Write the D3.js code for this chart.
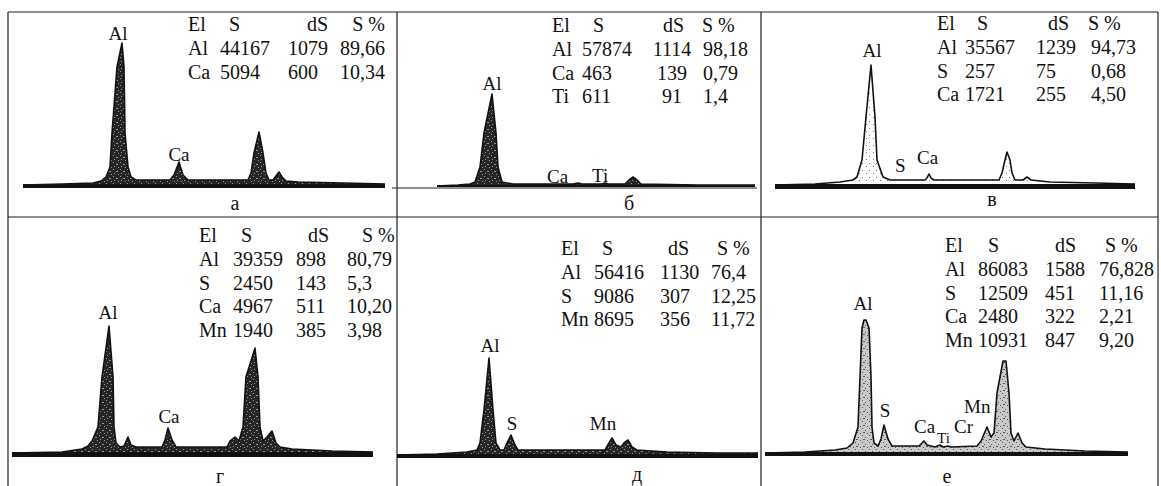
<!DOCTYPE html>
<html><head><meta charset="utf-8">
<script src="https://cdn.jsdelivr.net/npm/d3@7"></script>
<style>
html,body{margin:0;padding:0;background:#fff;}
svg{display:block;}
</style></head><body>
<svg id="chart" width="1161" height="486" font-family="'Liberation Serif','DejaVu Serif','Times New Roman',serif"></svg>
<script>
// ---------------- DATA ----------------
const panelLetters = ["а", "б", "в", "г", "д", "е"];
const tableHeader = ["El", "S", "dS", "S %"];

const tableA = [["Al","44167","1079","89,66"],["Ca","5094","600","10,34"]];
const tableB = [["Al","57874","1114","98,18"],["Ca","463","139","0,79"],["Ti","611","91","1,4"]];
const tableV = [["Al","35567","1239","94,73"],["S","257","75","0,68"],["Ca","1721","255","4,50"]];
const tableG = [["Al","39359","898","80,79"],["S","2450","143","5,3"],["Ca","4967","511","10,20"],["Mn","1940","385","3,98"]];
const tableD = [["Al","56416","1130","76,4"],["S","9086","307","12,25"],["Mn","8695","356","11,72"]];
const tableE = [["Al","86083","1588","76,828"],["S","12509","451","11,16"],["Ca","2480","322","2,21"],["Mn","10931","847","9,20"]];

// spectra: [channel, counts (arb.)]
const spectrumA = [[0,0],[40,1],[70,2],[78,4],[83,8],[87,18],[89,52],[94,118],[99,142],[101,118],[102,52],[105,18],[108,8],[113,5],[147,5],[151,10],[156,23],[160,10],[165,5],[225,5],[228,12],[231,32],[236,53],[240,32],[243,12],[246,5],[250,5],[253,9],[256,13],[259,8],[263,4],[275,3],[320,2],[362,1]];
const spectrumB = [[39,0],[60,1],[72,2],[77,4],[82,19],[86,53],[94,92],[98,53],[100,19],[104,4],[115,2],[175,2],[180,3],[184,2],[204,2],[207,3],[210,2],[227,2],[231,6],[235,9],[239,6],[243,2],[300,1],[357,1]];
const spectrumV = [[0,0],[40,1],[65,3],[78,5],[82,8],[87,25],[91,68],[96,120],[100,68],[102,25],[108,8],[115,5],[150,5],[152,7],[154,11],[156,7],[159,5],[224,5],[227,12],[230,25],[232,33],[235,25],[237,12],[240,5],[248,5],[252,8],[256,5],[275,3],[320,2],[360,1]];
const spectrumG = [[0,0],[50,1],[70,4],[76,7],[80,12],[86,26],[90,76],[97,127],[101,76],[102,26],[104,10],[108,6],[112,7],[116,16],[119,8],[124,6],[150,6],[153,13],[156,25],[160,13],[164,6],[215,6],[218,12],[223,16],[227,12],[231,26],[234,76],[243,105],[246,76],[248,26],[251,12],[255,16],[260,22],[264,10],[268,6],[280,4],[320,2],[361,1]];
const spectrumD = [[0,0],[40,1],[70,3],[80,5],[83,12],[87,45],[92,97],[96,45],[99,12],[103,5],[107,5],[110,12],[114,20],[118,10],[121,5],[208,5],[212,12],[215,17],[219,10],[224,8],[227,12],[231,15],[235,8],[240,5],[270,3],[320,2],[361,2]];
const spectrumE = [[0,0],[40,1],[70,3],[82,5],[88,10],[93,26],[95,76],[97,125],[99,133],[101,133],[104,125],[106,76],[107,26],[109,10],[113,7],[116,14],[119,28],[123,14],[127,7],[154,7],[157,10],[159,12],[162,8],[170,6],[175,8],[178,6],[183,7],[186,6],[212,7],[216,12],[222,26],[226,16],[229,20],[232,60],[238,92],[241,92],[244,60],[246,20],[249,12],[253,20],[257,10],[261,6],[280,4],[320,2],[363,1]];

// peak labels: [text, channel, counts, anchor]
const labelsA = [["Al",95,145,"middle"],["Ca",156,24,"middle"]];
const labelsB = [["Al",94,96,"middle"],["Ca",149,3,"start"],["Ti",194,4,"start"]];
const labelsV = [["Al",97,128,"middle"],["S",120,13,"start"],["Ca",142,21,"start"]];
const labelsG = [["Al",96,134,"middle"],["Ca",157,30,"middle"]];
const labelsD = [["Al",93,103,"middle"],["S",115,25,"middle"],["Mn",206,25,"middle"]];
const labelsE = [["Al",98,143,"middle"],["S",120,36,"middle"],["Ca",149,20,"start"],["Ti",172,10,"start"],["Cr",189,20,"start"],["Mn",199,40,"start"]];

// ---------------- LAYOUT ----------------
const panels = [
  {letter:panelLetters[0], table:tableA, spec:spectrumA, labels:labelsA, x0:23, x1:385, xmax:362, base:185,
   fill:"dark", thick:4, tY:31, hX:[188,229,328,385], hA:["start","start","end","end"], vX:[188,220,288,385], vA:["start","start","start","end"], lx:235, ly:210},
  {letter:panelLetters[1], table:tableB, spec:spectrumB, labels:labelsB, x0:398, x1:755, xmax:357, base:186,
   fill:"dark", thick:2, tY:32, hX:[552,593,663,702], hA:["start","start","start","start"], vX:[552,582,672,703], vA:["start","start","middle","start"], lx:629, ly:210},
  {letter:panelLetters[2], table:tableV, spec:spectrumV, labels:labelsV, x0:775, x1:1135, xmax:360, base:185,
   fill:"light", thick:5, tY:30, hX:[937,977,1048,1088], hA:["start","start","start","start"], vX:[937,965,1036,1091], vA:["start","start","start","start"], lx:992, ly:206},
  {letter:panelLetters[3], table:tableG, spec:spectrumG, labels:labelsG, x0:12, x1:373, xmax:361, base:453,
   fill:"dark", thick:5, tY:242, hX:[199,241,308,362], hA:["start","start","start","start"], vX:[199,233,296,347], vA:["start","start","start","start"], lx:220, ly:483},
  {letter:panelLetters[4], table:tableD, spec:spectrumD, labels:labelsD, x0:397, x1:758, xmax:361, base:455,
   fill:"dark", thick:4, tY:255, hX:[561,602,668,717], hA:["start","start","start","start"], vX:[561,594,660,711], vA:["start","start","start","start"], lx:637, ly:481},
  {letter:panelLetters[5], table:tableE, spec:spectrumE, labels:labelsE, x0:765, x1:1128, xmax:363, base:453,
   fill:"mid", thick:4, tY:252, hX:[945,988,1055,1105], hA:["start","start","start","start"], vX:[945,978,1045,1099], vA:["start","start","start","start"], lx:947, ly:483}
];
const rowGap = 23.8;

// ---------------- DRAW ----------------
const svg = d3.select("#chart");
const defs = svg.append("defs");
function makePattern(id, bg, dot, dots){
  const p = defs.append("pattern").attr("id", id).attr("patternUnits","userSpaceOnUse")
    .attr("width", 7).attr("height", 7);
  p.append("rect").attr("width",7).attr("height",7).attr("fill",bg);
  dots.forEach(d => p.append("rect").attr("x",d[0]).attr("y",d[1]).attr("width",d[2]).attr("height",1).attr("fill",dot));
}
makePattern("dark", "#262626", "#9a9a9a", [[1,1,1],[4,3,2],[2,5,1],[6,6,1]]);
makePattern("light", "#ffffff", "#777", [[1,2,1],[5,5,1]]);
makePattern("mid", "#c9c9c9", "#555", [[1,1,1],[4,3,1],[2,5,2],[6,6,1]]);

// frame
const frame = svg.append("g").attr("stroke","#222").attr("stroke-width",1.2).attr("fill","none");
[[8,12,1158,12],[8,217,1158,217],[8,12,8,486],[397,12,397,486],[761,12,761,486],[1158,12,1158,486]]
  .forEach(l => frame.append("line").attr("x1",l[0]).attr("y1",l[1]).attr("x2",l[2]).attr("y2",l[3]));
// thin reference line of panel б
frame.append("line").attr("x1",392).attr("y1",188).attr("x2",757).attr("y2",188).attr("stroke-width",1);

panels.forEach(P => {
  const x = d3.scaleLinear().domain([0, P.xmax]).range([P.x0, P.x1]);
  const y = d3.scaleLinear().domain([0, 150]).range([P.base, P.base - 150]);
  const g = svg.append("g");
  const area = d3.area().x(d => x(d[0])).y0(y(0)).y1(d => y(d[1])).curve(d3.curveLinear);
  const line = d3.line().x(d => x(d[0])).y(d => y(d[1])).curve(d3.curveLinear);
  g.append("path").datum(P.spec).attr("d", area).attr("fill", `url(#${P.fill})`);
  g.append("path").datum(P.spec).attr("d", line).attr("fill","none").attr("stroke","#111")
    .attr("stroke-width",1.6).attr("stroke-linejoin","round");
  // thick baseline
  const ext = d3.extent(P.spec, d => d[0]);
  g.append("line").attr("x1", x(ext[0])).attr("x2", x(ext[1]))
    .attr("y1", y(0) + P.thick/2 - 1).attr("y2", y(0) + P.thick/2 - 1)
    .attr("stroke","#111").attr("stroke-width", P.thick);

  // peak labels
  g.selectAll("text.pk").data(P.labels).join("text").attr("class","pk")
    .attr("x", d => x(d[1])).attr("y", d => y(d[2]))
    .attr("text-anchor", d => d[3])
    .attr("font-size", d => d[0] === "Ti" && P.letter === "е" ? 15 : 19)
    .attr("fill","#111")
    .text(d => d[0]);

  // table
  const tg = g.append("g").attr("font-size", 20).attr("fill","#111");
  tableHeader.forEach((h, i) => tg.append("text").attr("x", P.hX[i]).attr("y", P.tY).attr("text-anchor", P.hA[i]).text(h));
  P.table.forEach((row, r) => row.forEach((c, i) =>
    tg.append("text").attr("x", P.vX[i]).attr("y", P.tY + rowGap*(r+1)).attr("text-anchor", P.vA[i]).text(c)));

  // panel letter
  g.append("text").attr("x", P.lx).attr("y", P.ly).attr("text-anchor","middle").attr("font-size",20).attr("fill","#111").text(P.letter);
});
</script>
</body></html>
